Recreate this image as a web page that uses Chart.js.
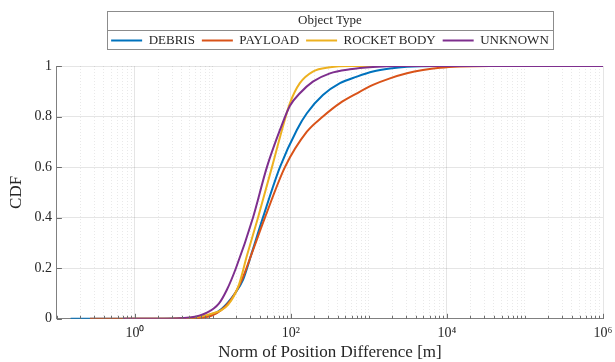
<!DOCTYPE html>
<html>
<head>
<meta charset="utf-8">
<script src="https://cdn.jsdelivr.net/npm/chart.js@4.4.0/dist/chart.umd.min.js"></script>
<style>
html, body { margin: 0; padding: 0; background: #fff; }
#wrap { width: 615px; height: 362px; }
</style>
</head>
<body>
<div id="wrap"><canvas id="grafico"></canvas></div>
<script>
var categorias = ['DEBRIS', 'PAYLOAD', 'ROCKET BODY', 'UNKNOWN'];
var cores = ['#0072BD', '#D95319', '#EDB120', '#7E2F8E'];

// CDF curves (x in metres, y = CDF)
var debrisX = [0.15, 1.56, 5.07, 9.7, 13.0, 19.1, 24.3, 30.7, 43.7, 72.3, 119, 160, 257, 425, 702, 1125, 1858, 3070, 8130, 1000000];
var debrisY = [0, 0, 0.003, 0.016, 0.04, 0.1, 0.154, 0.25, 0.4, 0.6, 0.747, 0.813, 0.885, 0.932, 0.958, 0.978, 0.99, 0.997, 1, 1];

var payloadX = [0.265, 1.56, 5.07, 9.7, 16.5, 23.5, 31.6, 46.4, 83.8, 160, 257, 425, 702, 1125, 1858, 3070, 4925, 8130, 14680, 35500, 1000000];
var payloadY = [0, 0, 0.002, 0.013, 0.07, 0.154, 0.26, 0.4, 0.6, 0.74, 0.8, 0.853, 0.892, 0.925, 0.951, 0.971, 0.984, 0.993, 0.998, 1, 1];

var rocketX = [0.74, 2.0, 5.07, 9.15, 15.6, 21.5, 27.3, 37.8, 57.1, 76.7, 97.1, 130, 191, 316, 570, 1000000];
var rocketY = [0, 0, 0.004, 0.018, 0.055, 0.134, 0.25, 0.4, 0.6, 0.747, 0.853, 0.932, 0.978, 0.995, 1, 1];

var unknownX = [0.70, 2.0, 5.07, 8.38, 11.9, 15.1, 19.7, 32.6, 49.2, 72.3, 97.1, 130, 191, 316, 570, 1125, 2495, 1000000];
var unknownY = [0, 0, 0.005, 0.024, 0.06, 0.115, 0.2, 0.4, 0.6, 0.747, 0.843, 0.892, 0.938, 0.971, 0.987, 0.996, 1, 1];

var xMin = 0.1, xMax = 1000000;
var xLabelDecades = [0, 2, 4, 6];
var xLabels = ['10\u2070', '10\u00B2', '10\u2074', '10\u2076'];
var yMin = 0, yMax = 1, yStep = 0.2;

var serif = '"Liberation Serif", "Times New Roman", serif';
var textColor = '#262626';

function pares(xs, ys) {
    var out = [];
    for (var i = 0; i < xs.length; i++) out.push({ x: xs[i], y: ys[i] });
    return out;
}

function decada(v) {
    var l = Math.log10(v);
    return Math.abs(l - Math.round(l)) < 1e-6 ? Math.round(l) : null;
}

function isMajor(v) {
    var d = decada(v);
    return d !== null && xLabelDecades.indexOf(d) >= 0;
}

var xTicks = [];
for (var k = -1; k < 6; k++) {
    for (var m = 1; m <= 9; m++) xTicks.push(m * Math.pow(10, k));
}
xTicks.push(xMax);

var series = [debrisX, payloadX, rocketX, unknownX];
var seriesY = [debrisY, payloadY, rocketY, unknownY];
var datasets = categorias.map(function (nome, i) {
    return {
        label: nome,
        data: pares(series[i], seriesY[i]),
        borderColor: cores[i],
        backgroundColor: cores[i],
        borderWidth: 2,
        pointRadius: 0,
        cubicInterpolationMode: 'monotone',
        order: categorias.length - 1 - i, // later series drawn on top
        fill: false
    };
});

// extra room under the legend
var legendaAltura = {
    id: 'legendaAltura',
    beforeInit: function (chart) {
        var lg = chart.legend;
        var fitOrig = lg.fit;
        lg.fit = function () {
            fitOrig.bind(lg)();
            this.height += 9;
        };
    }
};

// box around the legend + inward tick marks
var extras = {
    id: 'extras',
    afterLayout: function (chart) {
        var lg = chart.legend;
        var ca = chart.chartArea;
        var dx = (ca.left + ca.right) / 2 - (lg.left + lg.right) / 2;
        lg.left += dx;
        lg.right += dx;
        lg.legendHitBoxes.forEach(function (hb) { hb.left += dx; });
    },
    afterDraw: function (chart) {
        var ctx = chart.ctx;
        var lg = chart.legend;
        var hb = lg.legendHitBoxes;
        var left = Infinity, right = -Infinity;
        hb.forEach(function (h) {
            left = Math.min(left, h.left);
            right = Math.max(right, h.left + h.width);
        });
        left -= 4; right += 4;
        var top = lg.top + 3;
        var itemTop = hb[0].top;
        var bottom = itemTop + hb[0].height + 2;
        var sep = itemTop - 4;
        ctx.save();
        ctx.strokeStyle = '#8c8c8c';
        ctx.lineWidth = 1;
        ctx.strokeRect(Math.round(left) + 0.5, Math.round(top) + 0.5, Math.round(right - left), Math.round(bottom - top));
        ctx.beginPath();
        ctx.moveTo(Math.round(left) + 0.5, Math.round(sep) + 0.5);
        ctx.lineTo(Math.round(right) + 0.5, Math.round(sep) + 0.5);
        ctx.stroke();

        var xs = chart.scales.x, ys = chart.scales.y;
        var ca = chart.chartArea;
        ctx.strokeStyle = '#6e6e6e';
        ctx.beginPath();
        xTicks.forEach(function (v) {
            var px = Math.round(xs.getPixelForValue(v)) + 0.5;
            var len = isMajor(v) ? 5 : 3;
            ctx.moveTo(px, ca.bottom);
            ctx.lineTo(px, ca.bottom - len);
        });
        for (var y = yMin; y <= yMax + 1e-9; y += yStep) {
            var py = Math.round(ys.getPixelForValue(y)) + 0.5;
            ctx.moveTo(ca.left, py);
            ctx.lineTo(ca.left + 5, py);
        }
        ctx.stroke();
        ctx.restore();
    }
};

var ctx = document.getElementById('grafico').getContext('2d');
var myChart = new Chart(ctx, {
    type: 'line',
    data: { datasets: datasets },
    options: {
        responsive: true,
        maintainAspectRatio: false,
        animation: false,
        layout: { padding: { top: 8, left: 6, right: 1, bottom: 0 } },
        plugins: {
            tooltip: { enabled: false },
            legend: {
                position: 'top',
                title: {
                    display: true,
                    text: 'Object Type',
                    color: textColor,
                    font: { family: serif, size: 13, lineHeight: 1 },
                    padding: { top: 6, bottom: 0 }
                },
                labels: {
                    usePointStyle: true,
                    pointStyle: 'line',
                    pointStyleWidth: 31,
                    boxHeight: 12,
                    padding: 7,
                    color: textColor,
                    font: { family: serif, size: 13 },
                    sort: function (a, b) { return a.datasetIndex - b.datasetIndex; }
                }
            }
        },
        scales: {
            x: {
                type: 'logarithmic',
                min: xMin,
                max: xMax,
                afterBuildTicks: function (scale) {
                    scale.ticks = xTicks.map(function (v) { return { value: v, major: isMajor(v) }; });
                },
                afterFit: function (scale) {
                    scale.paddingRight = 12;
                },
                ticks: {
                    autoSkip: false,
                    maxRotation: 0,
                    padding: 6,
                    color: textColor,
                    font: { family: serif, size: 14 },
                    callback: function (v) {
                        var d = decada(v);
                        var idx = d === null ? -1 : xLabelDecades.indexOf(d);
                        return idx >= 0 ? xLabels[idx] : '';
                    }
                },
                grid: {
                    drawTicks: false,
                    color: function (c) {
                        if (!c.tick) return 'rgba(0,0,0,0)';
                        return isMajor(c.tick.value) ? 'rgba(38,38,38,0.12)' : 'rgba(38,38,38,0.1)';
                    }
                },
                border: {
                    color: '#808080',
                    dash: function (c) {
                        if (!c.tick) return [];
                        return isMajor(c.tick.value) ? [] : [1, 2];
                    }
                },
                title: {
                    display: true,
                    text: 'Norm of Position Difference [m]',
                    color: textColor,
                    font: { family: serif, size: 17 },
                    padding: { top: -5, bottom: -1 }
                }
            },
            y: {
                min: yMin,
                max: yMax,
                ticks: {
                    stepSize: yStep,
                    padding: 5,
                    color: textColor,
                    font: { family: serif, size: 14 },
                    callback: function (v) { return String(Math.round(v * 10) / 10); }
                },
                grid: {
                    drawTicks: false,
                    color: 'rgba(38,38,38,0.12)'
                },
                border: { color: '#808080' },
                title: {
                    display: true,
                    text: 'CDF',
                    color: textColor,
                    font: { family: serif, size: 17 },
                    padding: { top: 0, bottom: 3 }
                }
            }
        }
    },
    plugins: [legendaAltura, extras]
});
</script>
</body>
</html>
